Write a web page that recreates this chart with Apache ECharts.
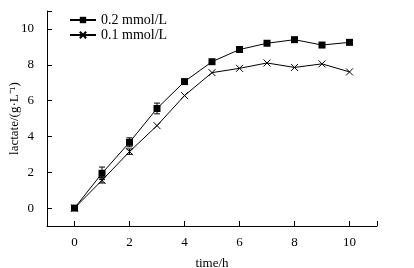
<!DOCTYPE html>
<html>
<head>
<meta charset="utf-8">
<script src="https://cdn.jsdelivr.net/npm/echarts@6/dist/echarts.min.js"></script>
<style>
  html, body { margin: 0; padding: 0; background: #fff; }
  #main { width: 414px; height: 268px; }
</style>
</head>
<body>
<div id="main"></div>
<script>
// time points (h)
const hours = [0, 1, 2, 3, 4, 5, 6, 7, 8, 9, 10]
// lactate (g/L)
const lac02 = [0, 1.94, 3.67, 5.56, 7.06, 8.17, 8.85, 9.2, 9.4, 9.1, 9.25]
const lac01 = [0, 1.55, 3.15, 4.6, 6.28, 7.56, 7.8, 8.1, 7.85, 8.05, 7.6]
// error bar half widths
const err02 = [0, 0.35, 0.25, 0.3, 0, 0, 0, 0, 0, 0, 0]
const err01 = [0, 0.15, 0.15, 0, 0, 0, 0, 0, 0, 0, 0]
const tickVals = [0, 2, 4, 6, 8, 10]
const names = ['0.2 mmol/L', '0.1 mmol/L']

const crossPath = 'path://M0,0 L10,10 M10,0 L0,10'
const font = 'Liberation Serif'

function errSeries (vals, errs) {
  return {
    type: 'custom',
    silent: true,
    z: 1,
    data: hours.map(function (h, i) { return [h, vals[i], errs[i]] }).filter(function (d) { return d[2] > 0 }),
    renderItem: function (params, api) {
      let x = api.value(0)
      let lo = api.coord([x, api.value(1) - api.value(2)])
      let hi = api.coord([x, api.value(1) + api.value(2)])
      let w = 3
      let st = { stroke: '#000', lineWidth: 1 }
      return {
        type: 'group',
        children: [
          { type: 'line', shape: { x1: lo[0], y1: lo[1], x2: hi[0], y2: hi[1] }, style: st },
          { type: 'line', shape: { x1: hi[0] - w, y1: hi[1], x2: hi[0] + w, y2: hi[1] }, style: st },
          { type: 'line', shape: { x1: lo[0] - w, y1: lo[1], x2: lo[0] + w, y2: lo[1] }, style: st }
        ]
      }
    }
  }
}

let myChart = echarts.init(document.getElementById('main'))
let option = {
  animation: false,
  textStyle: { fontFamily: font },
  grid: { left: 47, right: 37, top: 11, bottom: 42, containLabel: false, outerBoundsMode: 'none' },
  legend: {
    orient: 'vertical',
    left: 64,
    top: 8,
    itemGap: 1,
    itemWidth: 26,
    itemHeight: 8,
    textStyle: { fontFamily: font, fontSize: 14, color: '#000' },
    data: names
  },
  xAxis: {
    type: 'value',
    min: -1,
    max: 11,
    name: 'time/h',
    nameLocation: 'middle',
    nameGap: 31,
    nameMoveOverlap: false,
    nameTextStyle: { fontFamily: font, fontSize: 13, color: '#000' },
    splitLine: { show: false },
    axisLine: { onZero: false, lineStyle: { color: '#000', width: 1 } },
    axisTick: { inside: true, length: 5, lineStyle: { color: '#000' }, customValues: [0, 2, 4, 6, 8, 10, 11] },
    axisLabel: { fontFamily: font, fontSize: 13, color: '#000', margin: 10, customValues: tickVals }
  },
  yAxis: {
    type: 'value',
    min: -1,
    max: 11,
    name: 'lactate/(g·L⁻¹)',
    nameLocation: 'middle',
    nameGap: 26,
    nameMoveOverlap: false,
    nameTextStyle: { fontFamily: font, fontSize: 13, color: '#000' },
    splitLine: { show: false },
    axisLine: { onZero: false, lineStyle: { color: '#000', width: 1 } },
    axisTick: { inside: true, length: 5, lineStyle: { color: '#000' }, customValues: [0, 2, 4, 6, 8, 10, 11] },
    axisLabel: { fontFamily: font, fontSize: 13, color: '#000', margin: 13, customValues: tickVals }
  },
  series: [
    errSeries(lac02, err02),
    errSeries(lac01, err01),
    {
      name: names[0],
      type: 'line',
      z: 3,
      data: hours.map(function (h, i) { return [h, lac02[i]] }),
      symbol: 'rect',
      symbolSize: 7,
      itemStyle: { color: '#000' },
      lineStyle: { color: '#000', width: 1 }
    },
    {
      name: names[1],
      type: 'line',
      z: 3,
      data: hours.map(function (h, i) { return [h, lac01[i]] }),
      symbol: crossPath,
      symbolSize: 7,
      itemStyle: { color: 'none', borderColor: '#000', borderWidth: 1 },
      lineStyle: { color: '#000', width: 1 }
    }
  ]
}
myChart.setOption(option, true)
</script>
</body>
</html>
